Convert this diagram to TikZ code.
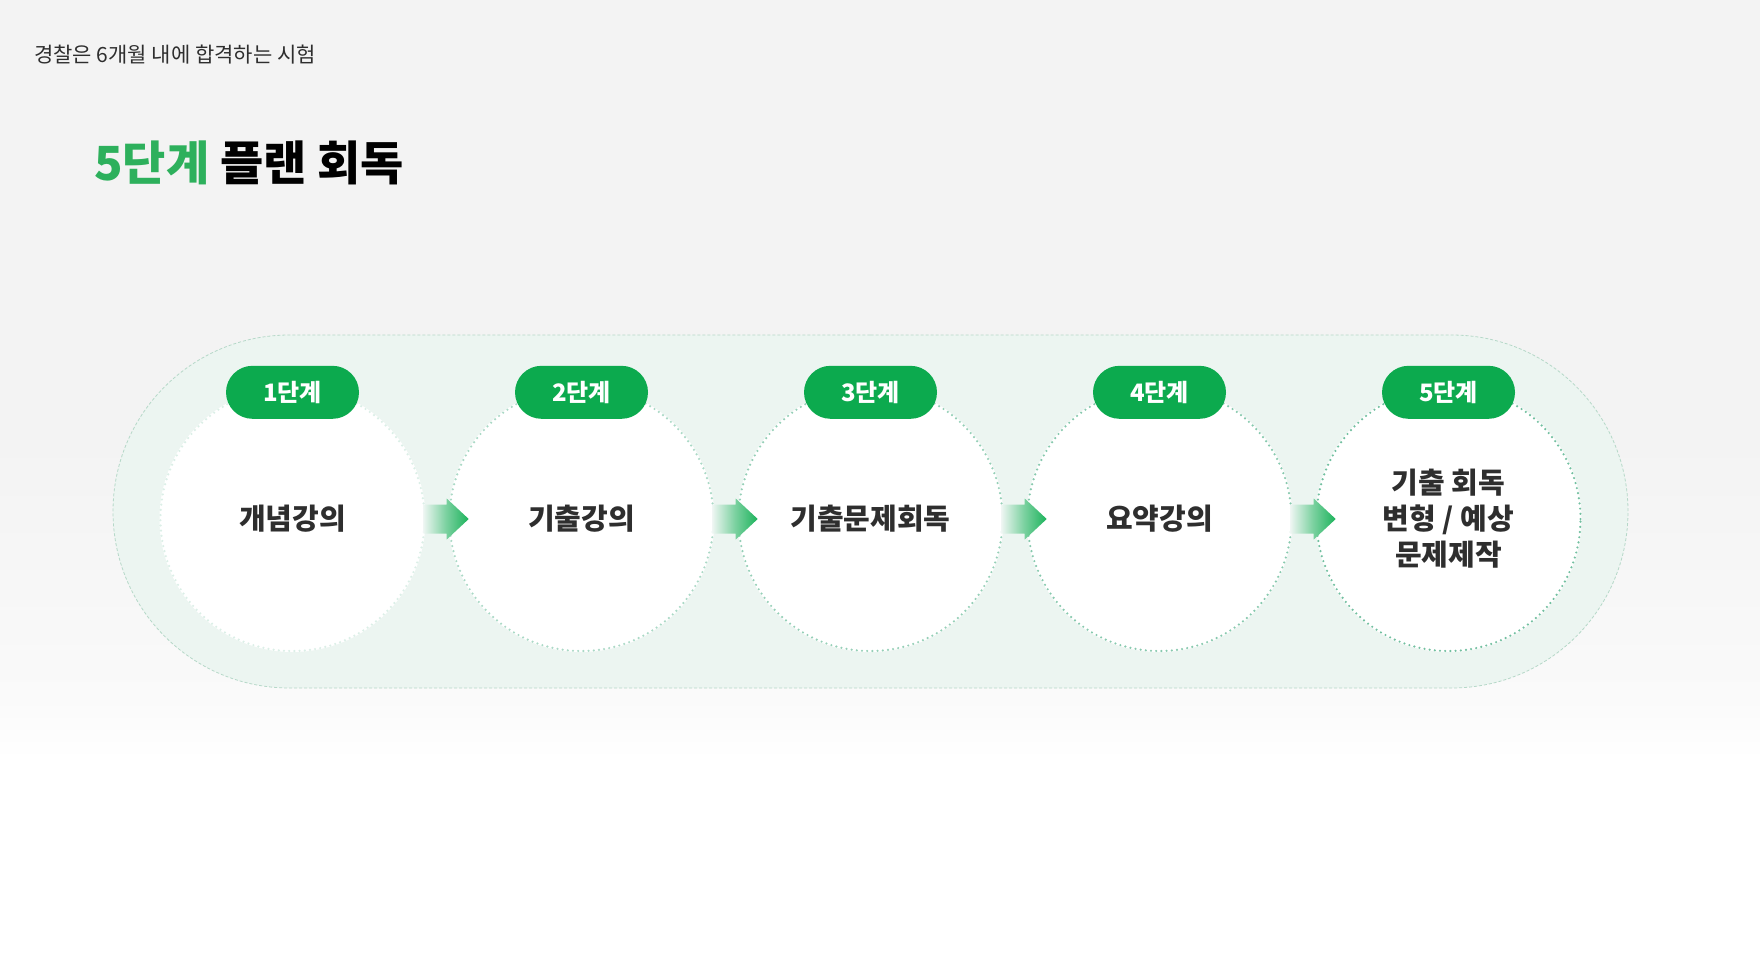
\documentclass[tikz,border=0pt]{standalone}
\usepackage{fontspec}
\setmainfont{Noto Sans CJK KR}
\newfontfamily\kr{Noto Sans CJK KR}
\usetikzlibrary{calc,shapes.misc}
\definecolor{pillgreen}{HTML}{0CAA4E}
\definecolor{titlegreen}{HTML}{2DB05C}
\definecolor{arrowgreen}{HTML}{1DB35C}
\definecolor{bggrey}{HTML}{F3F3F3}
\definecolor{bgfade}{HTML}{FAFAFA}
\definecolor{mint}{HTML}{ECF5F1}
\definecolor{trackline}{HTML}{B5D8C8}
\definecolor{dotteal}{HTML}{72C0A0}
\definecolor{txt}{HTML}{2E2E2E}
\tikzset{
  track/.style={rounded rectangle, minimum width=1515pt, minimum height=353pt,
    fill=mint, draw=trackline, line width=0.8pt, dash pattern=on 3pt off 2pt, inner sep=0pt},
  stepcircle/.style={circle, minimum size=266pt, inner sep=0pt, fill=white,
    text=txt, font=\kr\bfseries\fontsize{29}{37}\selectfont, align=center},
  ring/.style={draw=dotteal, line width=2.4pt, line cap=round, dash pattern=on 0pt off 5.2pt},
  pill/.style={rounded rectangle, minimum width=133pt, minimum height=53pt, inner sep=0pt,
    fill=pillgreen, text=white, font=\kr\bfseries\fontsize{24}{28}\selectfont},
  flowarrow/.style={left color=mint, right color=arrowgreen, middle color=arrowgreen!55!mint}
}
\newcommand{\flowarrowpath}{(0,-14.5) -- (23,-14.5) -- (23,-20.5) -- (45,0) -- (23,20.5) -- (23,14.5) -- (0,14.5) -- cycle}
\begin{document}
\begin{tikzpicture}[x=1pt,y=-1pt]
\useasboundingbox (0,0) rectangle (1760,960);
% background
\fill[bggrey] (0,0) rectangle (1760,440);
\shade[top color=bggrey, bottom color=bgfade] (0,439) rectangle (1760,700);
\shade[top color=bgfade, bottom color=white] (0,699) rectangle (1760,760);
\fill[white] (0,759) rectangle (1760,960);
% headings
\node[anchor=west, inner sep=0pt, text=txt, font=\kr\fontsize{21}{25}\selectfont] (sub) at (34,55) {경찰은 6개월 내에 합격하는 시험};
\node[anchor=west, inner sep=0pt, font=\kr\bfseries\fontsize{47}{55}\selectfont] (title) at (94,163)
  {\textcolor{titlegreen}{5단계} 플랜 회독};
% track
\node[track] (trk) at (870.5,511.5) {};
% circles
\node[stepcircle] (c1) at (292.5,519) {개념강의};
\node[stepcircle] (c2) at (581.5,519) {기출강의};
\node[stepcircle] (c3) at (870.5,519) {기출문제회독};
\node[stepcircle] (c4) at (1159.5,519) {요약강의};
\node[stepcircle] (c5) at (1448.5,519) {기출 회독\\[-1pt]변형 / 예상\\[-1pt]문제제작};
\draw[ring, draw opacity=0.25] (c1.center) circle (132pt);
\draw[ring, draw opacity=0.6] (c2.center) circle (132pt);
\draw[ring, draw opacity=0.75] (c3.center) circle (132pt);
\draw[ring, draw opacity=0.85] (c4.center) circle (132pt);
\draw[ring] (c5.center) circle (132pt);
% pills
\node[pill] (p1) at ($(c1.north)+(0,6.5)$) {1단계};
\node[pill] (p2) at ($(c2.north)+(0,6.5)$) {2단계};
\node[pill] (p3) at ($(c3.north)+(0,6.5)$) {3단계};
\node[pill] (p4) at ($(c4.north)+(0,6.5)$) {4단계};
\node[pill] (p5) at ($(c5.north)+(0,6.5)$) {5단계};
% arrows
\shade[flowarrow, shift={($(c1.east)+(-2,0)$)}] \flowarrowpath;
\shade[flowarrow, shift={($(c2.east)+(-2,0)$)}] \flowarrowpath;
\shade[flowarrow, shift={($(c3.east)+(-2,0)$)}] \flowarrowpath;
\shade[flowarrow, shift={($(c4.east)+(-2,0)$)}] \flowarrowpath;
\end{tikzpicture}
\end{document}
